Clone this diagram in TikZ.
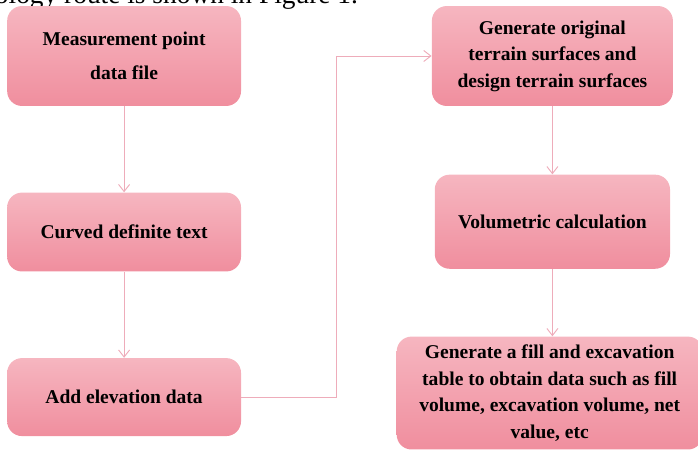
\documentclass[tikz,border=0pt]{standalone}
\usepackage{fontspec}
\setmainfont{Liberation Serif}
\usepackage{xcolor}
\usepackage{tikz}
\usetikzlibrary{arrows.meta, positioning}
\definecolor{boxtop}{RGB}{246,182,192}
\definecolor{boxbottom}{RGB}{240,142,158}
\definecolor{linkpink}{RGB}{238,172,186}

\begin{document}
\begin{tikzpicture}[
  box/.style={rounded corners=0.33cm, top color=boxtop, bottom color=boxbottom, draw=none, align=center,
    font=\fontsize{12.4}{16.8}\selectfont\bfseries, inner sep=2pt},
  arrow/.style={-{Straight Barb[length=4.5pt, width=7pt]}, color=linkpink, line width=0.6pt},
  caption/.style={font=\fontsize{17.4}{20}\selectfont, anchor=base west, inner sep=0pt}
]
\useasboundingbox (0,0) rectangle (15.58,-10.05);
\clip (0,0) rectangle (15.58,-10.05);

% Cut-off line of the page text
\node[caption] (pagetext) at (-0.12,-0.07) {ology route is shown in Figure 1.};

% Left column
\node[box, minimum width=5.22cm, minimum height=2.23cm] (pointfile) at (2.77,-1.25) {Measurement point\\[5pt] data file};
\node[box, minimum width=5.22cm, minimum height=1.76cm, below=1.92cm of pointfile] (curvetext) {Curved definite text};
\node[box, minimum width=5.22cm, minimum height=1.74cm, below=1.92cm of curvetext] (elevation) {Add elevation data};

% Right column
\node[box, minimum width=5.38cm, minimum height=2.23cm] (surfaces) at (12.33,-1.25) {Generate original\\ terrain surfaces and\\ design terrain surfaces};
\node[box, minimum width=5.25cm, minimum height=2.10cm, below=1.52cm of surfaces] (volume) {Volumetric calculation};
\node[box, minimum width=6.83cm, minimum height=2.52cm, below=1.50cm of volume, xshift=-0.06cm] (filltable) {Generate a fill and excavation\\ table to obtain data such as fill\\ volume, excavation volume, net\\ value, etc};

% Arrows
\coordinate (turn) at (7.50,-1.25);
\draw[arrow] (pointfile) -- (curvetext);
\draw[arrow] (curvetext) -- (elevation);
\draw[arrow] (elevation.east) -| (turn) -- (surfaces.west);
\draw[arrow] (surfaces) -- (volume);
\draw[arrow] (volume.south) -- (volume.south |- filltable.north);
\end{tikzpicture}
\end{document}
